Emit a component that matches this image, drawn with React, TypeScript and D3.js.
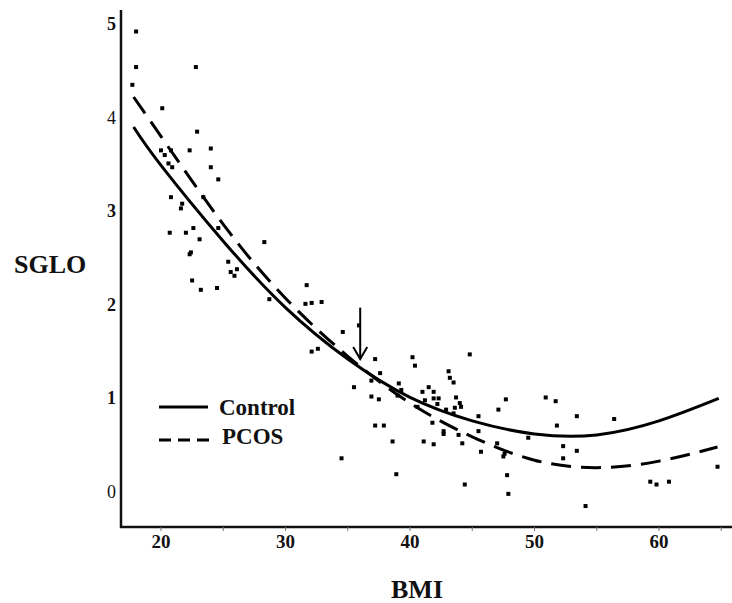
import React from "react";
import * as d3 from "d3";

// scatter points: [BMI, SGLO]
const points: [number, number][] = [
  [18.0, 4.92], [18.0, 4.54], [22.8, 4.54], [17.7, 4.35], [20.1, 4.10], [22.9, 3.85],
  [20.0, 3.65], [20.3, 3.60], [20.8, 3.65], [22.3, 3.65], [24.0, 3.67], [20.6, 3.51],
  [20.9, 3.47], [24.0, 3.47], [24.6, 3.34], [20.8, 3.15], [23.4, 3.15],
  [21.7, 3.08], [21.6, 3.03], [20.7, 2.77], [22.0, 2.77], [22.6, 2.82], [23.1, 2.70],
  [24.6, 2.82], [22.4, 2.56], [22.3, 2.54], [25.4, 2.46], [25.6, 2.35], [26.1, 2.38],
  [25.9, 2.31], [22.5, 2.26], [23.2, 2.16], [24.5, 2.18], [28.3, 2.67], [28.7, 2.06],
  [31.7, 2.21], [31.6, 2.01], [32.1, 2.02], [32.9, 2.03], [35.9, 1.78], [34.6, 1.71],
  [32.1, 1.50], [32.6, 1.53], [37.2, 1.42], [40.2, 1.44], [40.4, 1.35], [44.8, 1.47],
  [37.6, 1.27], [36.9, 1.19], [39.1, 1.16], [35.5, 1.12], [36.9, 1.02], [37.5, 0.99],
  [39.3, 1.09], [39.0, 1.03], [41.0, 1.07], [41.5, 1.12], [41.9, 1.07], [43.1, 1.29],
  [43.2, 1.22], [43.5, 1.17], [41.9, 1.00], [42.3, 1.00], [41.2, 0.98], [42.2, 0.94],
  [43.7, 1.01], [44.0, 0.95], [44.1, 0.91], [43.6, 0.90], [42.9, 0.88], [43.5, 0.84],
  [40.6, 0.91], [37.2, 0.71], [37.9, 0.71], [41.8, 0.74], [38.6, 0.54], [41.1, 0.54],
  [41.9, 0.51], [42.7, 0.65], [42.7, 0.62], [43.9, 0.61], [44.2, 0.52], [34.5, 0.36],
  [38.9, 0.19], [45.5, 0.81], [45.5, 0.65],
  [44.4, 0.08], [45.7, 0.43], [47.1, 0.88], [47.7, 0.99], [47.0, 0.52], [47.5, 0.38],
  [47.6, 0.41], [47.8, 0.18], [47.9, -0.02], [49.5, 0.58], [50.9, 1.01], [51.7, 0.97],
  [51.8, 0.71], [53.4, 0.81], [52.3, 0.49], [52.3, 0.36], [53.4, 0.44], [54.1, -0.15],
  [56.4, 0.78], [59.3, 0.11], [59.8, 0.08], [60.8, 0.11], [64.7, 0.27],
];

// fitted curves, read at intervals along the lines
const controlCurve: [number, number][] = [
  [17.8, 3.9], [20, 3.49], [25, 2.68], [30, 1.97], [35, 1.42], [40, 1.01],
  [45, 0.76], [50, 0.62], [55, 0.61], [60, 0.76], [64.8, 1.0],
];
const pcosCurve: [number, number][] = [
  [17.8, 4.22], [20, 3.8], [25, 2.86], [30, 2.07], [35, 1.45], [40, 0.95],
  [45, 0.59], [50, 0.34], [55, 0.26], [60, 0.33], [64.7, 0.48],
];

const xTickLabels = [20, 30, 40, 50, 60];
const xMinorTicks = [20, 25, 30, 35, 40, 45, 50, 55, 60, 65];
const yTickLabels = [0, 1, 2, 3, 4, 5];
const lightYTicks = [0, 4]; // these look thinner in the scan

// the arrow marks where the two curves cross
const arrowBMI = 36;
const arrowFrom = 1.97;
const arrowTo = 1.42;

const W = 732;
const H = 603;
const font = "'Liberation Serif', 'Times New Roman', serif";

export default function App() {
  const x = d3.scaleLinear().domain([20, 60]).range([161, 659]);
  const y = d3.scaleLinear().domain([0, 5]).range([492, 24]);

  const line = d3
    .line<[number, number]>()
    .x((d) => x(d[0]))
    .y((d) => y(d[1]))
    .curve(d3.curveNatural);

  const axisLeft = 121;
  const axisBottom = 527;

  const ax = x(arrowBMI);

  return (
    <svg
      width={W}
      height={H}
      style={{ position: "absolute", left: 0, top: 0, background: "#fff" }}
      fontFamily={font}
    >
      {/* axes */}
      <line x1={axisLeft} x2={axisLeft} y1={10} y2={axisBottom + 1} stroke="#111" strokeWidth={2.5} />
      <line x1={axisLeft - 1} x2={W} y1={axisBottom} y2={axisBottom} stroke="#111" strokeWidth={2.5} />
      {xMinorTicks.map((t) => (
        <line key={t} x1={x(t)} x2={x(t)} y1={axisBottom} y2={axisBottom + 4} stroke="#777" strokeWidth={1} />
      ))}
      {xTickLabels.map((t) => (
        <text key={t} x={x(t)} y={548} textAnchor="middle" fontSize={19} fontWeight="bold" fill="#111">
          {t}
        </text>
      ))}
      {yTickLabels.map((t) => (
        <text
          key={t}
          x={116}
          y={y(t) + 6}
          textAnchor="end"
          fontSize={18}
          fontWeight={lightYTicks.includes(t) ? "normal" : "bold"}
          fill="#111"
        >
          {t}
        </text>
      ))}

      {/* axis titles */}
      <text x={14} y={273} fontSize={26} fontWeight="bold" fill="#111">
        SGLO
      </text>
      <text x={417} y={598} textAnchor="middle" fontSize={26} fontWeight="bold" fill="#111">
        BMI
      </text>

      {/* points */}
      {points.map((d, i) => (
        <rect key={i} x={x(d[0]) - 2} y={y(d[1]) - 2} width={4} height={4} fill="#000" />
      ))}

      {/* curves */}
      <path d={line(controlCurve) || ""} fill="none" stroke="#000" strokeWidth={3} />
      <path d={line(pcosCurve) || ""} fill="none" stroke="#000" strokeWidth={3} strokeDasharray="20 10" />

      {/* arrow */}
      <line x1={ax} x2={ax} y1={y(arrowFrom)} y2={y(arrowTo)} stroke="#000" strokeWidth={2} />
      <polyline
        points={`${ax - 7},${y(arrowTo) - 12} ${ax},${y(arrowTo)} ${ax + 7},${y(arrowTo) - 12}`}
        fill="none"
        stroke="#000"
        strokeWidth={2}
      />

      {/* legend */}
      <line x1={159} x2={208} y1={407} y2={407} stroke="#000" strokeWidth={3} />
      <text x={219} y={415} fontSize={23} fontWeight="bold" fill="#111">
        Control
      </text>
      <line x1={159} x2={211} y1={440} y2={440} stroke="#000" strokeWidth={3} strokeDasharray="12 7" />
      <text x={222} y={444} fontSize={23} fontWeight="bold" fill="#111">
        PCOS
      </text>
    </svg>
  );
}
